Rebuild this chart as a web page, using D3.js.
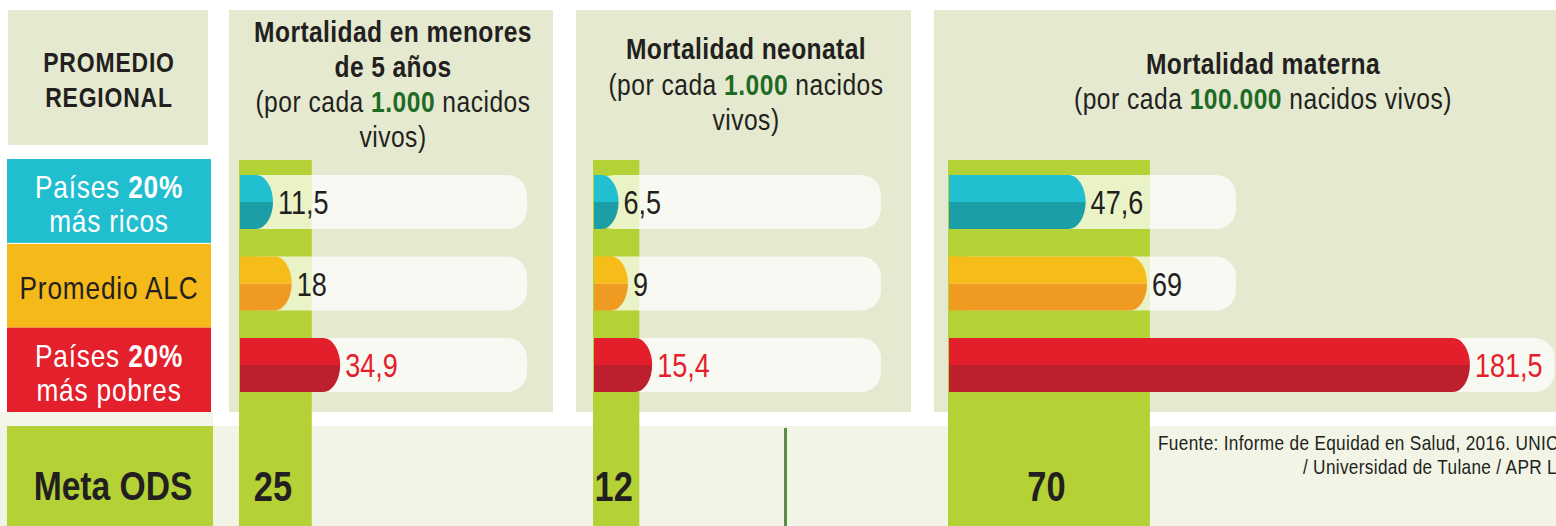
<!DOCTYPE html>
<html>
<head>
<meta charset="utf-8">
<script src="https://cdn.jsdelivr.net/npm/d3@7"></script>
<style>
  html, body { margin: 0; padding: 0; background: #fff; overflow: hidden; }
  svg { display: block; font-family: "Liberation Sans", Arial, sans-serif; }
</style>
</head>
<body>
<div id="chart"></div>
<script>
// Data
const categories = ["ricos", "alc", "pobres"];
// label lines per category: [text, bold]
const categoryLabels = [
  [[["Países ", false], ["20%", true]], [["más ricos", false]]],
  [[["Promedio ALC", false]]],
  [[["Países ", false], ["20%", true]], [["más pobres", false]]]
];
const indicatorTitles = [
  ["Mortalidad en menores", "de 5 años"],
  ["Mortalidad neonatal"],
  ["Mortalidad materna"]
];
// subtitle lines: [before, green bold, after]
const indicatorSubtitles = [
  [["(por cada ", "1.000", " nacidos"], ["vivos)", "", ""]],
  [["(por cada ", "1.000", " nacidos"], ["vivos)", "", ""]],
  [["(por cada ", "100.000", " nacidos vivos)"]]
];
const valuesMenores5 = [11.5, 18, 34.9];
const valuesNeonatal = [6.5, 9, 15.4];
const valuesMaterna = [47.6, 69, 181.5];
const metasODS = [25, 12, 70];
const valueLabels = [["11,5", "18", "34,9"], ["6,5", "9", "15,4"], ["47,6", "69", "181,5"]];
const scaleMax = [100, 76, 100];
const sourceLines = ["Fuente: Informe de Equidad en Salud, 2016. UNICEF", "/ Universidad de Tulane / APR LAC"];

const allValues = [valuesMenores5, valuesNeonatal, valuesMaterna];

const W = 1556, H = 526;
const panelBg = "#e5e9cf";
const goalGreen = "#b4d235";
const dark = "#231f20";
const topColors = ["#22bfd1", "#f6bc1a", "#e31f2b"];
const bottomColors = ["#1b9ea6", "#ef9b21", "#bc1f2e"];
const labelColors = ["#21bed0", "#f5b919", "#e3202b"];
const valueColors = [dark, dark, "#e3202b"];

// layout of the three panels
const panelX = [229, 576, 934];
const panelW = [324, 335, 622];
const headerX = [393, 746, 1263];
const headerMid = [84, 84, 81];
const barStart = [240, 594, 949];
const trackW = 287;
const barH = 54;

// condensed look: regular sans squeezed horizontally
const SX = 0.82;
function ntext(parent, x, y) {
  return parent.append("text")
    .attr("transform", `translate(${x},${y}) scale(${SX},1)`)
    .attr("dominant-baseline", "central");
}

const svg = d3.select("#chart").append("svg")
  .attr("width", W).attr("height", H);

const yBox = d3.scaleBand().domain(categories).range([159, 412]);
const yRow = d3.scalePoint().domain(categories).range([202, 365]);

// bottom band
svg.append("rect").attr("x", 0).attr("y", 412).attr("width", 213).attr("height", 114).attr("fill", "#f3f5e8");
svg.append("rect").attr("x", 0).attr("y", 426).attr("width", W).attr("height", 100).attr("fill", "#f2f4e6");

// PROMEDIO REGIONAL box
svg.append("rect").attr("x", 8).attr("y", 10).attr("width", 200).attr("height", 135).attr("fill", panelBg);
["PROMEDIO", "REGIONAL"].forEach((t, i) => {
  ntext(svg, 109, 62 + i * 35)
    .attr("text-anchor", "middle")
    .attr("font-size", "28px").attr("font-weight", "700").attr("fill", dark)
    .attr("letter-spacing", "1px")
    .text(t);
});

// category boxes
categories.forEach((c, i) => {
  svg.append("rect")
    .attr("x", 7).attr("y", yBox(c))
    .attr("width", 204).attr("height", yBox.bandwidth())
    .attr("fill", labelColors[i]);
  const lines = categoryLabels[i];
  const cy = yBox(c) + yBox.bandwidth() / 2 + 3;
  lines.forEach((parts, j) => {
    const t = ntext(svg, 109, cy + (j - (lines.length - 1) / 2) * 34)
      .attr("text-anchor", "middle")
      .attr("font-size", "32px").attr("letter-spacing", "1px")
      .attr("fill", i === 1 ? dark : "#fff");
    parts.forEach(p => t.append("tspan").attr("font-weight", p[1] ? "700" : "400").text(p[0]));
  });
});
svg.append("rect").attr("x", 7).attr("y", yBox(categories[1]) - 0.5).attr("width", 204).attr("height", 1).attr("fill", "#fff");

// Meta ODS box
svg.append("rect").attr("x", 7).attr("y", 426).attr("width", 206).attr("height", 100).attr("fill", goalGreen);
ntext(svg, 113, 486)
  .attr("text-anchor", "middle")
  .attr("font-size", "41px").attr("font-weight", "700").attr("fill", dark)
  .text("Meta ODS");

// bar shape halves: flat left, elliptical right end
function topHalf(x0, x1, y0) {
  const r = Math.min(17, x1 - x0);
  return `M${x0},${y0}H${x1 - r}A${r},${barH / 2} 0 0 1 ${x1},${y0 + barH / 2}H${x0}Z`;
}
function bottomHalf(x0, x1, y0) {
  const r = Math.min(17, x1 - x0);
  return `M${x0},${y0 + barH / 2}H${x1}A${r},${barH / 2} 0 0 1 ${x1 - r},${y0 + barH}H${x0}Z`;
}

allValues.forEach((vals, p) => {
  const g = svg.append("g");
  const x = d3.scaleLinear().domain([0, scaleMax[p]]).range([barStart[p], barStart[p] + trackW]);

  // panel background
  g.append("rect").attr("x", panelX[p]).attr("y", 10)
    .attr("width", panelW[p]).attr("height", 402).attr("fill", panelBg);

  // header
  const cx = headerX[p];
  const nLines = indicatorTitles[p].length + indicatorSubtitles[p].length;
  const y0 = headerMid[p] - (nLines - 1) * 35 / 2;
  let line = 0;
  indicatorTitles[p].forEach(t => {
    ntext(g, cx, y0 + line * 35)
      .attr("text-anchor", "middle")
      .attr("font-size", "30px").attr("font-weight", "700").attr("fill", dark)
      .attr("letter-spacing", "0.5px")
      .text(t);
    line++;
  });
  indicatorSubtitles[p].forEach(parts => {
    const t = ntext(g, cx, y0 + line * 35)
      .attr("text-anchor", "middle")
      .attr("font-size", "30px").attr("fill", dark)
      .attr("letter-spacing", "0.6px");
    t.append("tspan").text(parts[0]);
    if (parts[1]) t.append("tspan").attr("font-weight", "700").attr("fill", "#1f6b26").text(parts[1]);
    if (parts[2]) t.append("tspan").text(parts[2]);
    line++;
  });

  // goal (Meta ODS) column
  g.append("rect")
    .attr("x", x(0) - 1).attr("y", 160)
    .attr("width", x(metasODS[p]) - x(0) + 1).attr("height", H - 160)
    .attr("fill", goalGreen);
  ntext(g, (x(0) + x(metasODS[p])) / 2 - 3, 486)
    .attr("text-anchor", "middle")
    .attr("font-size", "42px").attr("font-weight", "700").attr("fill", dark)
    .text(metasODS[p]);

  categories.forEach((c, i) => {
    const yTop = yRow(c) - barH / 2;
    const xEnd = x(vals[i]);
    const track = g.append("rect")
      .attr("x", x(0)).attr("y", yTop)
      .attr("height", barH).attr("rx", 20)
      .attr("fill", "#fff").attr("fill-opacity", 0.72);
    g.append("path").attr("d", bottomHalf(x(0), xEnd, yTop)).attr("fill", bottomColors[i]);
    g.append("path").attr("d", topHalf(x(0), xEnd, yTop)).attr("fill", topColors[i]);
    const lbl = ntext(g, xEnd + 5, yRow(c) + 1)
      .attr("font-size", "33px").attr("fill", valueColors[i])
      .text(valueLabels[p][i]);
    const need = xEnd + 5 + lbl.node().getComputedTextLength() * SX + 12;
    track.attr("width", Math.max(trackW, need - x(0)));
  });
});

// divider line in the bottom band
svg.append("rect").attr("x", 784).attr("y", 428).attr("width", 3).attr("height", 98).attr("fill", "#5b8c46");

// source: first line starts at a fixed x, second right-aligned to it
const src1 = ntext(svg, 1158, 443)
  .attr("font-size", "21px").attr("letter-spacing", "0.4px").attr("fill", dark)
  .text(sourceLines[0]);
const srcEnd = 1158 + src1.node().getComputedTextLength() * SX;
ntext(svg, srcEnd, 467)
  .attr("text-anchor", "end")
  .attr("font-size", "21px").attr("letter-spacing", "0.4px").attr("fill", dark)
  .text(sourceLines[1]);
</script>
</body>
</html>
